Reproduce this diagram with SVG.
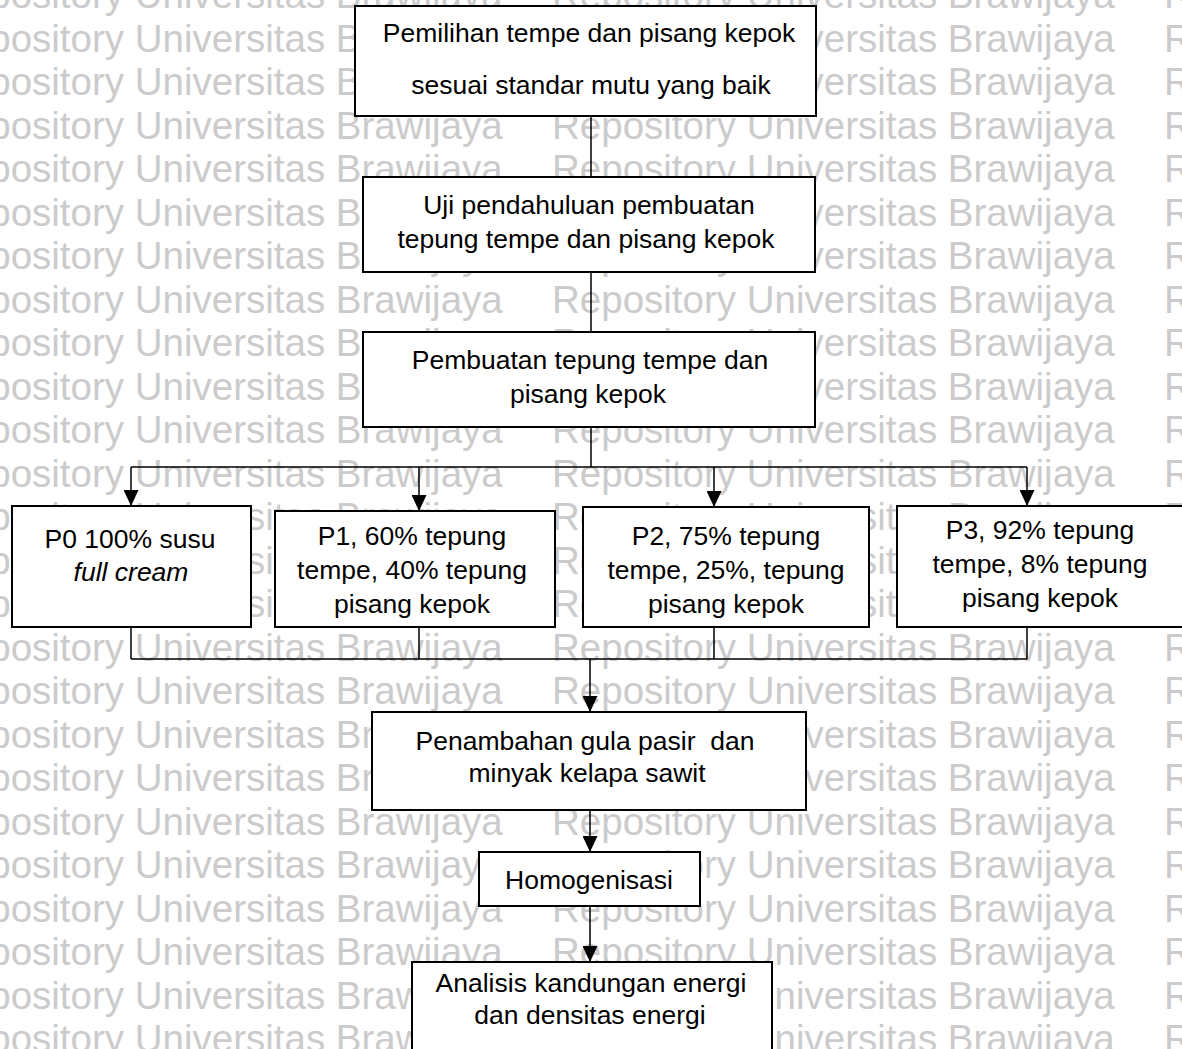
<svg xmlns="http://www.w3.org/2000/svg" width="1182" height="1049" viewBox="0 0 1182 1049">
<style>
.wm{font-family:"Liberation Sans",Arial,sans-serif;font-size:38.5px;fill:#cbcbcb}
.box{fill:#fff;stroke:#000;stroke-width:2}
.t{font-family:"Liberation Sans",Arial,sans-serif;font-size:26.5px;fill:#000;text-anchor:middle}
.c{fill:none;stroke:#000;stroke-width:1.5}
</style>
<defs>
<marker id="ah" viewBox="0 0 16 15" refX="16" refY="7.5" markerWidth="16" markerHeight="15" markerUnits="userSpaceOnUse" orient="auto">
<path d="M0,0 L16,7.5 L0,15 z" fill="#000"/>
</marker>
</defs>
<rect width="1182" height="1049" fill="#fff"/>
<g id="watermark" class="wm">
<text y="8"><tspan x="-60">Repository Universitas Brawijaya</tspan><tspan x="552">Repository Universitas Brawijaya</tspan><tspan x="1164">Repository</tspan></text>
<text y="51.5"><tspan x="-60">Repository Universitas Brawijaya</tspan><tspan x="552">Repository Universitas Brawijaya</tspan><tspan x="1164">Repository</tspan></text>
<text y="95"><tspan x="-60">Repository Universitas Brawijaya</tspan><tspan x="552">Repository Universitas Brawijaya</tspan><tspan x="1164">Repository</tspan></text>
<text y="138.5"><tspan x="-60">Repository Universitas Brawijaya</tspan><tspan x="552">Repository Universitas Brawijaya</tspan><tspan x="1164">Repository</tspan></text>
<text y="182"><tspan x="-60">Repository Universitas Brawijaya</tspan><tspan x="552">Repository Universitas Brawijaya</tspan><tspan x="1164">Repository</tspan></text>
<text y="225.5"><tspan x="-60">Repository Universitas Brawijaya</tspan><tspan x="552">Repository Universitas Brawijaya</tspan><tspan x="1164">Repository</tspan></text>
<text y="269"><tspan x="-60">Repository Universitas Brawijaya</tspan><tspan x="552">Repository Universitas Brawijaya</tspan><tspan x="1164">Repository</tspan></text>
<text y="312.5"><tspan x="-60">Repository Universitas Brawijaya</tspan><tspan x="552">Repository Universitas Brawijaya</tspan><tspan x="1164">Repository</tspan></text>
<text y="356"><tspan x="-60">Repository Universitas Brawijaya</tspan><tspan x="552">Repository Universitas Brawijaya</tspan><tspan x="1164">Repository</tspan></text>
<text y="399.5"><tspan x="-60">Repository Universitas Brawijaya</tspan><tspan x="552">Repository Universitas Brawijaya</tspan><tspan x="1164">Repository</tspan></text>
<text y="443"><tspan x="-60">Repository Universitas Brawijaya</tspan><tspan x="552">Repository Universitas Brawijaya</tspan><tspan x="1164">Repository</tspan></text>
<text y="486.5"><tspan x="-60">Repository Universitas Brawijaya</tspan><tspan x="552">Repository Universitas Brawijaya</tspan><tspan x="1164">Repository</tspan></text>
<text y="530"><tspan x="-60">Repository Universitas Brawijaya</tspan><tspan x="552">Repository Universitas Brawijaya</tspan><tspan x="1164">Repository</tspan></text>
<text y="573.5"><tspan x="-60">Repository Universitas Brawijaya</tspan><tspan x="552">Repository Universitas Brawijaya</tspan><tspan x="1164">Repository</tspan></text>
<text y="617"><tspan x="-60">Repository Universitas Brawijaya</tspan><tspan x="552">Repository Universitas Brawijaya</tspan><tspan x="1164">Repository</tspan></text>
<text y="660.5"><tspan x="-60">Repository Universitas Brawijaya</tspan><tspan x="552">Repository Universitas Brawijaya</tspan><tspan x="1164">Repository</tspan></text>
<text y="704"><tspan x="-60">Repository Universitas Brawijaya</tspan><tspan x="552">Repository Universitas Brawijaya</tspan><tspan x="1164">Repository</tspan></text>
<text y="747.5"><tspan x="-60">Repository Universitas Brawijaya</tspan><tspan x="552">Repository Universitas Brawijaya</tspan><tspan x="1164">Repository</tspan></text>
<text y="791"><tspan x="-60">Repository Universitas Brawijaya</tspan><tspan x="552">Repository Universitas Brawijaya</tspan><tspan x="1164">Repository</tspan></text>
<text y="834.5"><tspan x="-60">Repository Universitas Brawijaya</tspan><tspan x="552">Repository Universitas Brawijaya</tspan><tspan x="1164">Repository</tspan></text>
<text y="878"><tspan x="-60">Repository Universitas Brawijaya</tspan><tspan x="552">Repository Universitas Brawijaya</tspan><tspan x="1164">Repository</tspan></text>
<text y="921.5"><tspan x="-60">Repository Universitas Brawijaya</tspan><tspan x="552">Repository Universitas Brawijaya</tspan><tspan x="1164">Repository</tspan></text>
<text y="965"><tspan x="-60">Repository Universitas Brawijaya</tspan><tspan x="552">Repository Universitas Brawijaya</tspan><tspan x="1164">Repository</tspan></text>
<text y="1008.5"><tspan x="-60">Repository Universitas Brawijaya</tspan><tspan x="552">Repository Universitas Brawijaya</tspan><tspan x="1164">Repository</tspan></text>
<text y="1052"><tspan x="-60">Repository Universitas Brawijaya</tspan><tspan x="552">Repository Universitas Brawijaya</tspan><tspan x="1164">Repository</tspan></text>
</g>
<g id="connectors">
<line class="c" x1="591" y1="116" x2="591" y2="177"/>
<line class="c" x1="591" y1="272" x2="591" y2="332"/>
<line class="c" x1="591" y1="427" x2="591" y2="467"/>
<line class="c" x1="131" y1="467" x2="1027" y2="467"/>
<line class="c" x1="131" y1="467" x2="131" y2="506" marker-end="url(#ah)"/>
<line class="c" x1="419" y1="467" x2="419" y2="511" marker-end="url(#ah)"/>
<line class="c" x1="714" y1="467" x2="714" y2="507" marker-end="url(#ah)"/>
<line class="c" x1="1027" y1="467" x2="1027" y2="506" marker-end="url(#ah)"/>
<line class="c" x1="131" y1="627" x2="131" y2="659"/>
<line class="c" x1="419" y1="627" x2="419" y2="659"/>
<line class="c" x1="714" y1="627" x2="714" y2="659"/>
<line class="c" x1="1027" y1="627" x2="1027" y2="659"/>
<line class="c" x1="131" y1="659" x2="1027" y2="659"/>
<line class="c" x1="590" y1="659" x2="590" y2="712" marker-end="url(#ah)"/>
<line class="c" x1="590" y1="810" x2="590" y2="852" marker-end="url(#ah)"/>
<line class="c" x1="590" y1="906" x2="590" y2="962" marker-end="url(#ah)"/>
</g>
<g id="n1"><rect class="box" x="355" y="6" width="461" height="110"/>
<text class="t" x="589" y="42">Pemilihan tempe dan pisang kepok</text>
<text class="t" x="591" y="94">sesuai standar mutu yang baik</text></g>
<g id="n2"><rect class="box" x="363" y="177" width="452" height="95"/>
<text class="t" x="589" y="214">Uji pendahuluan pembuatan</text>
<text class="t" x="586" y="248">tepung tempe dan pisang kepok</text></g>
<g id="n3"><rect class="box" x="363" y="332" width="452" height="95"/>
<text class="t" x="590" y="369">Pembuatan tepung tempe dan</text>
<text class="t" x="588" y="403">pisang kepok</text></g>
<g id="p0"><rect class="box" x="12" y="506" width="239" height="121"/>
<text class="t" x="130" y="548">P0 100% susu</text>
<text class="t" x="131" y="581" font-style="italic">full cream</text></g>
<g id="p1"><rect class="box" x="275" y="511" width="280" height="116"/>
<text class="t" x="412" y="545">P1, 60% tepung</text>
<text class="t" x="412" y="579">tempe, 40% tepung</text>
<text class="t" x="412" y="613">pisang kepok</text></g>
<g id="p2"><rect class="box" x="583" y="507" width="286" height="120"/>
<text class="t" x="726" y="545">P2, 75% tepung</text>
<text class="t" x="726" y="579">tempe, 25%, tepung</text>
<text class="t" x="726" y="613">pisang kepok</text></g>
<g id="p3"><rect class="box" x="897" y="506" width="287" height="121"/>
<text class="t" x="1040" y="539">P3, 92% tepung</text>
<text class="t" x="1040" y="573">tempe, 8% tepung</text>
<text class="t" x="1040" y="607">pisang kepok</text></g>
<g id="n4"><rect class="box" x="372" y="712" width="434" height="98"/>
<text class="t" x="585" y="750" xml:space="preserve">Penambahan gula pasir  dan</text>
<text class="t" x="587" y="782">minyak kelapa sawit</text></g>
<g id="n5"><rect class="box" x="479" y="852" width="221" height="54"/>
<text class="t" x="589" y="889">Homogenisasi</text></g>
<g id="n6"><rect class="box" x="412" y="962" width="360" height="95"/>
<text class="t" x="591" y="992">Analisis kandungan energi</text>
<text class="t" x="590" y="1024">dan densitas energi</text></g>
</svg>
